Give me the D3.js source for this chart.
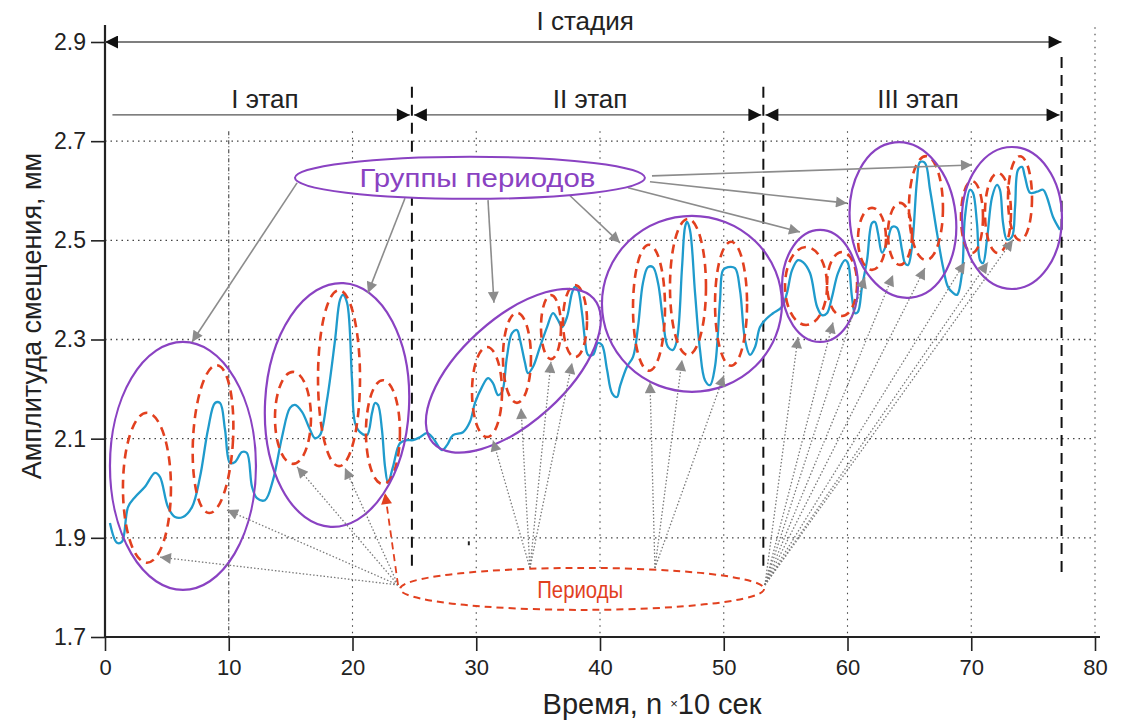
<!DOCTYPE html>
<html>
<head>
<meta charset="utf-8">
<script src="https://cdn.jsdelivr.net/npm/d3@7"></script>
<style>
  body { margin: 0; background: #fff; }
  text { font-family: "Liberation Sans", Arial, sans-serif; }
</style>
</head>
<body>
<div id="chart"></div>
<script>
// время (n x 10 сек) и амплитуда смещения (мм)
var time = [0.40,0.97,1.37,1.86,2.42,3.23,4.04,4.44,5.09,5.66,6.30,7.03,7.68,8.32,8.89,9.29,9.70,10.10,10.51,11.07,
  11.47,11.88,12.28,12.93,13.58,14.30,14.95,15.35,15.92,16.57,16.97,17.37,17.94,18.59,18.99,19.23,19.56,19.96,20.20,20.61,
  21.17,21.58,21.82,22.06,22.38,22.63,22.87,23.27,23.84,24.40,24.89,25.45,26.02,26.51,27.23,27.64,28.12,28.93,29.49,29.90,
  30.46,30.95,31.35,31.76,32.08,32.48,32.89,33.29,33.54,33.94,34.18,34.59,35.15,35.72,36.20,36.61,36.93,37.33,37.74,37.98,
  38.22,38.55,38.79,39.03,39.43,39.84,40.16,40.57,40.97,41.37,41.62,42.18,42.67,43.07,43.47,43.88,44.28,44.69,45.09,45.49,
  45.90,46.22,46.63,46.87,47.03,47.27,47.68,48.08,48.48,48.89,49.29,49.70,49.94,50.34,50.91,51.31,51.72,52.12,52.53,52.93,
  53.49,53.98,54.71,55.11,55.52,56.00,56.40,56.97,57.54,57.94,58.34,58.75,59.23,59.80,60.04,60.36,60.61,60.85,61.17,61.58,
  61.98,62.22,62.46,62.79,63.19,63.60,64.00,64.40,64.65,64.89,65.21,65.62,65.86,66.26,66.67,67.23,67.72,68.12,68.53,68.85,
  69.25,69.49,69.90,70.14,70.46,70.71,70.95,71.27,71.68,72.08,72.32,72.57,72.89,73.29,73.54,73.78,74.10,74.34,74.75,75.31,
  75.80,76.12,76.61,77.17];
var amplitude = [1.930,1.890,1.892,1.962,1.982,2.003,2.031,2.023,1.962,1.942,1.942,1.962,2.023,2.118,2.172,2.172,2.118,2.051,2.053,2.073,
  2.071,2.003,1.980,1.976,2.017,2.103,2.162,2.168,2.154,2.118,2.101,2.107,2.178,2.299,2.380,2.390,2.374,2.218,2.132,2.113,
  2.107,2.152,2.172,2.168,2.118,2.043,2.011,2.043,2.091,2.097,2.097,2.103,2.111,2.101,2.077,2.087,2.107,2.113,2.134,2.172,
  2.204,2.222,2.212,2.188,2.194,2.265,2.313,2.319,2.299,2.253,2.232,2.245,2.285,2.325,2.353,2.339,2.325,2.345,2.394,2.406,
  2.400,2.353,2.299,2.269,2.269,2.293,2.289,2.239,2.192,2.184,2.206,2.245,2.265,2.325,2.414,2.446,2.446,2.414,2.339,2.285,
  2.279,2.299,2.446,2.527,2.537,2.521,2.394,2.279,2.218,2.208,2.245,2.380,2.440,2.446,2.444,2.400,2.299,2.269,2.285,2.325,
  2.343,2.353,2.366,2.394,2.440,2.460,2.456,2.434,2.366,2.349,2.353,2.386,2.434,2.460,2.454,2.386,2.353,2.356,2.406,2.460,
  2.535,2.537,2.515,2.475,2.495,2.527,2.525,2.481,2.454,2.450,2.487,2.622,2.658,2.656,2.602,2.515,2.446,2.406,2.394,2.390,
  2.434,2.547,2.602,2.596,2.535,2.460,2.454,2.501,2.587,2.612,2.602,2.535,2.501,2.507,2.567,2.642,2.648,2.628,2.596,2.598,
  2.602,2.587,2.547,2.521];

var xTicks = [0, 10, 20, 30, 40, 50, 60, 70, 80];
var yTicks = [1.7, 1.9, 2.1, 2.3, 2.5, 2.7, 2.9];
var stageBounds = [0.6, 24.8, 53.2, 77.3];
var stageNames = ["I этап", "II этап", "III этап"];
var stageTitle = "I стадия";

// аннотации: центр (время, амплитуда), полуоси в пикселях, поворот
var groupEllipses = [
  [6.30, 2.045, 73, 124, 0], [18.75, 2.168, 72, 122, 3], [33.0, 2.237, 108, 52, -42],
  [47.43, 2.372, 90, 88, 0], [57.78, 2.408, 38, 56, 0], [64.48, 2.541, 53, 78, -6], [73.29, 2.545, 50, 71, 0]
];
var periodEllipses = [
  [3.39, 2.001, 24, 75, 0], [8.73, 2.099, 20, 74, 3],
  [15.19, 2.142, 18, 46, 0], [18.91, 2.222, 21, 88, 0], [22.46, 2.113, 17, 52, 0],
  [30.87, 2.194, 15, 45, 0], [33.29, 2.263, 14, 45, 0], [36.04, 2.325, 10, 32, 0], [37.98, 2.337, 12, 36, 0],
  [43.96, 2.364, 16, 63, 0], [47.11, 2.406, 18, 68, 0], [50.59, 2.372, 16, 62, 0],
  [56.65, 2.408, 21, 39, 0], [59.56, 2.412, 15, 32, 0],
  [61.98, 2.503, 14, 31, 0], [64.24, 2.513, 12, 31, 0], [66.34, 2.565, 17, 52, 0],
  [70.06, 2.547, 11, 36, 0], [72.16, 2.555, 13, 40, 0], [73.94, 2.585, 12, 42, 0]
];
var groupArrows = [
  [15.52, 2.616, 7.03, 2.295], [24.24, 2.585, 21.25, 2.394], [30.95, 2.581, 31.43, 2.374],
  [37.58, 2.590, 41.62, 2.495], [42.26, 2.606, 56.16, 2.517], [44.04, 2.618, 59.96, 2.575],
  [44.20, 2.630, 70.06, 2.652]
];
var periodSources = [[23.68, 1.805], [34.34, 1.839], [44.44, 1.839], [53.33, 1.805]];
var periodTargets = [
  [0, 4.44, 1.861], [0, 9.86, 1.956], [0, 15.52, 2.043], [0, 19.39, 2.041],
  [1, 31.35, 2.097], [1, 33.62, 2.162], [1, 36.04, 2.255], [1, 37.74, 2.253],
  [2, 44.04, 2.214], [2, 46.63, 2.259], [2, 50.02, 2.228],
  [3, 56.00, 2.305], [3, 58.83, 2.335], [3, 61.41, 2.426], [3, 63.68, 2.430], [3, 66.26, 2.444],
  [3, 69.49, 2.456], [3, 71.35, 2.456], [3, 73.37, 2.501]
];
var redArrow = [0, 22.63, 1.990];

var W = 1121, H = 723;
var blue = "#1f9bcc", purple = "#8a42c2", red = "#e2401f", gray = "#8c8c8c";

var svg = d3.select("#chart").append("svg").attr("width", W).attr("height", H);

var x = d3.scaleLinear().domain([0, 80]).range([105, 1095]);
var y = d3.scaleLinear().domain([1.7, 2.9]).range([637, 42]);

var defs = svg.append("defs");
function marker(id, color, len, wid) {
  defs.append("marker")
    .attr("id", id)
    .attr("viewBox", "0 0 10 10")
    .attr("refX", 10).attr("refY", 5)
    .attr("markerUnits", "userSpaceOnUse")
    .attr("markerWidth", len).attr("markerHeight", wid)
    .attr("orient", "auto-start-reverse")
    .append("path")
    .attr("d", "M0,0L10,5L0,10Z")
    .attr("fill", color);
}
marker("blackHead", "#111", 14, 13);
marker("grayHead", gray, 15, 11);
marker("redHead", red, 14, 11);

// сетка
svg.append("g").selectAll("line")
  .data(yTicks.filter(function(d) { return d > 1.7 && d < 2.9; }))
  .enter().append("line")
  .attr("x1", x(0)).attr("x2", x(80))
  .attr("y1", function(d) { return y(d); }).attr("y2", function(d) { return y(d); })
  .style("stroke", "#444").style("stroke-width", 1.3).style("stroke-dasharray", "1.5,4");

svg.append("g").selectAll("line")
  .data(xTicks.filter(function(d) { return d > 0; }))
  .enter().append("line")
  .attr("x1", function(d) { return x(d); }).attr("x2", function(d) { return x(d); })
  .attr("y1", function(d) { return d == 80 ? y(2.93) : y(2.72); })
  .attr("y2", y(1.7))
  .style("stroke", "#444").style("stroke-width", 1.1)
  .style("stroke-dasharray", function(d) { return d == 10 ? "4,2,1,2" : "1.5,5"; });

// границы этапов
svg.append("g").selectAll("line")
  .data(stageBounds.slice(1))
  .enter().append("line")
  .attr("x1", function(d) { return x(d); }).attr("x2", function(d) { return x(d); })
  .attr("y1", function(d, i) { return i == 2 ? y(2.87) : y(2.81); })
  .attr("y2", y(1.83))
  .style("stroke", "#111").style("stroke-width", 2).style("stroke-dasharray", "11,7");

// оси
var xAxis = d3.axisBottom(x).tickValues(xTicks).tickSize(14).tickPadding(8).tickFormat(d3.format("d"));
var yAxis = d3.axisLeft(y).tickValues(yTicks).tickSize(14).tickPadding(5).tickFormat(d3.format(".1f"));

var gx = svg.append("g").attr("transform", "translate(0," + y(1.7) + ")").call(xAxis);
gx.select(".domain").attr("d", "M" + x(0) + ",0H" + (x(80) + 5)).style("stroke", "#222").style("stroke-width", 2.2);
gx.selectAll(".tick line").style("stroke", "#222").style("stroke-width", 1.6);
gx.selectAll(".tick text").style("font-size", "22px").style("fill", "#222");

var gy = svg.append("g").attr("transform", "translate(" + x(0) + ",0)").call(yAxis);
gy.select(".domain").attr("d", "M0," + (y(1.7) + 1) + "V" + (y(2.9) - 17)).style("stroke", "#222").style("stroke-width", 2.2);
gy.selectAll(".tick line").style("stroke", "#222").style("stroke-width", 1.6);
gy.selectAll(".tick text").style("font-size", "23px").style("fill", "#222");

svg.append("text")
  .attr("transform", "translate(41," + 316 + ") rotate(-90)")
  .attr("text-anchor", "middle")
  .style("font-size", "27px").style("fill", "#222")
  .text("Амплитуда смещения, мм");

var xl = svg.append("text")
  .attr("x", 652).attr("y", 714)
  .attr("text-anchor", "middle")
  .style("font-size", "29px").style("fill", "#222");
xl.append("tspan").text("Время, n ");
xl.append("tspan").style("font-size", "13px").attr("dy", -6).text("×");
xl.append("tspan").attr("dy", 6).text("10 сек");

// стадия и этапы
svg.append("line")
  .attr("x1", x(0)).attr("x2", x(stageBounds[3]))
  .attr("y1", y(2.9)).attr("y2", y(2.9))
  .style("stroke", "#555").style("stroke-width", 1.3)
  .attr("marker-start", "url(#blackHead)").attr("marker-end", "url(#blackHead)");
svg.append("text")
  .attr("x", x(38.8)).attr("y", y(2.9) - 12)
  .attr("text-anchor", "middle")
  .style("font-size", "26px").style("fill", "#222")
  .text(stageTitle);

var stageY = y(2.753);
stageNames.forEach(function(name, i) {
  var a = stageBounds[i], b = stageBounds[i + 1];
  var ln = svg.append("line")
    .attr("x1", x(a) + (i > 0 ? 2 : 0)).attr("x2", x(b) - 2)
    .attr("y1", stageY).attr("y2", stageY)
    .style("stroke", "#555").style("stroke-width", 1.3)
    .attr("marker-end", "url(#blackHead)");
  if (i > 0) ln.attr("marker-start", "url(#blackHead)");
  svg.append("text")
    .attr("x", x([12.93, 39.2, 65.7][i])).attr("y", stageY - 7)
    .attr("text-anchor", "middle")
    .style("font-size", "26px").style("fill", "#222")
    .text(name);
});

// кривая
var line = d3.line()
  .x(function(d) { return x(d[0]); })
  .y(function(d) { return y(d[1]); })
  .curve(d3.curveCatmullRom.alpha(0.5));

svg.append("path")
  .datum(d3.zip(time, amplitude))
  .attr("d", line)
  .style("fill", "none").style("stroke", blue).style("stroke-width", 2.3);

// эллипсы периодов
svg.append("g").selectAll("ellipse")
  .data(periodEllipses)
  .enter().append("ellipse")
  .attr("transform", function(d) { return "translate(" + x(d[0]) + "," + y(d[1]) + ") rotate(" + d[4] + ")"; })
  .attr("rx", function(d) { return d[2]; })
  .attr("ry", function(d) { return d[3]; })
  .style("fill", "none").style("stroke", red).style("stroke-width", 2.6).style("stroke-dasharray", "9,6");

// эллипсы групп
svg.append("g").selectAll("ellipse")
  .data(groupEllipses)
  .enter().append("ellipse")
  .attr("transform", function(d) { return "translate(" + x(d[0]) + "," + y(d[1]) + ") rotate(" + d[4] + ")"; })
  .attr("rx", function(d) { return d[2]; })
  .attr("ry", function(d) { return d[3]; })
  .style("fill", "none").style("stroke", purple).style("stroke-width", 2.2);

// стрелки к группам
svg.append("g").selectAll("line")
  .data(groupArrows)
  .enter().append("line")
  .attr("x1", function(d) { return x(d[0]); }).attr("y1", function(d) { return y(d[1]); })
  .attr("x2", function(d) { return x(d[2]); }).attr("y2", function(d) { return y(d[3]); })
  .style("stroke", gray).style("stroke-width", 1.6)
  .attr("marker-end", "url(#grayHead)");

// стрелки к периодам
svg.append("g").selectAll("line")
  .data(periodTargets)
  .enter().append("line")
  .attr("x1", function(d) { return x(periodSources[d[0]][0]); })
  .attr("y1", function(d) { return y(periodSources[d[0]][1]); })
  .attr("x2", function(d) { return x(d[1]); }).attr("y2", function(d) { return y(d[2]); })
  .style("stroke", "#7a7a7a").style("stroke-width", 1.3).style("stroke-dasharray", "1.5,2")
  .attr("marker-end", "url(#grayHead)");

svg.append("line")
  .attr("x1", x(periodSources[redArrow[0]][0])).attr("y1", y(periodSources[redArrow[0]][1]))
  .attr("x2", x(redArrow[1])).attr("y2", y(redArrow[2]))
  .style("stroke", red).style("stroke-width", 1.8).style("stroke-dasharray", "7,5")
  .attr("marker-end", "url(#redHead)");

// подписи-эллипсы
svg.append("ellipse")
  .attr("cx", x(29.49)).attr("cy", y(2.626)).attr("rx", 175).attr("ry", 21)
  .style("fill", "#fff").style("stroke", purple).style("stroke-width", 2);
svg.append("text")
  .attr("x", x(30.1)).attr("y", y(2.626) + 9)
  .attr("text-anchor", "middle")
  .attr("textLength", 236).attr("lengthAdjust", "spacingAndGlyphs")
  .style("font-size", "25px").style("fill", purple)
  .text("Группы периодов");

svg.append("ellipse")
  .attr("cx", x(38.55)).attr("cy", y(1.797)).attr("rx", 182).attr("ry", 21)
  .style("fill", "#fff").style("stroke", red).style("stroke-width", 2).style("stroke-dasharray", "7,5");
svg.append("text")
  .attr("x", x(38.4)).attr("y", y(1.797) + 9)
  .attr("text-anchor", "middle")
  .attr("textLength", 86).attr("lengthAdjust", "spacingAndGlyphs")
  .style("font-size", "24px").style("fill", red)
  .text("Периоды");

svg.append("line")
  .attr("x1", x(29.4)).attr("x2", x(29.4))
  .attr("y1", y(1.885)).attr("y2", y(1.893))
  .style("stroke", "#222").style("stroke-width", 2);
</script>
</body>
</html>
